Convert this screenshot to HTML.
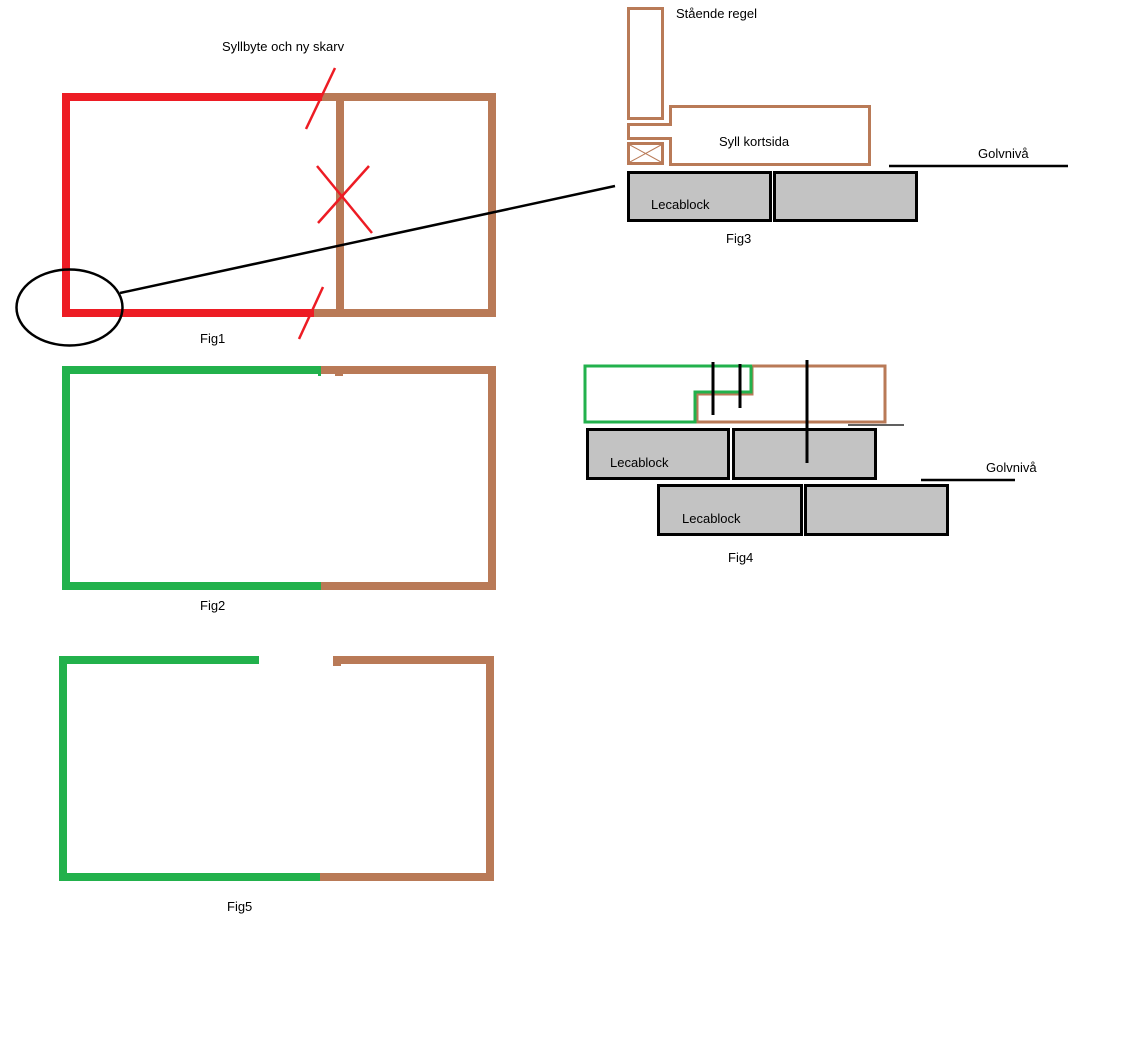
<!DOCTYPE html>
<html><head><meta charset="utf-8"><style>
html,body{margin:0;padding:0;background:#fff;}
svg{display:block;}
text{font-family:"Liberation Sans",sans-serif;font-size:13px;fill:#000;}
</style></head><body>
<svg width="1132" height="1042" viewBox="0 0 1132 1042" xmlns="http://www.w3.org/2000/svg">
<rect width="1132" height="1042" fill="#fff"/>
<!-- Fig1 -->
<rect x="322" y="93" width="174" height="8" fill="#B97A57"/>
<rect x="313" y="309" width="183" height="8" fill="#B97A57"/>
<rect x="488" y="93" width="8" height="224" fill="#B97A57"/>
<rect x="336" y="93" width="8" height="224" fill="#B97A57"/>
<rect x="62" y="93" width="260" height="8" fill="#ED1C24"/>
<rect x="62" y="309" width="252" height="8" fill="#ED1C24"/>
<rect x="62" y="93" width="8" height="224" fill="#ED1C24"/>
<g stroke="#ED1C24" stroke-width="2.5">
<line x1="335" y1="68" x2="306" y2="129"/>
<line x1="323" y1="287" x2="299" y2="339"/>
<line x1="317" y1="166" x2="372" y2="233"/>
<line x1="318" y1="223" x2="369" y2="166"/>
</g>
<line x1="120" y1="293" x2="615" y2="186" stroke="#000" stroke-width="2.5"/>
<ellipse cx="69.5" cy="307.5" rx="53" ry="38" fill="none" stroke="#000" stroke-width="2.5"/>
<text x="222" y="51">Syllbyte och ny skarv</text>
<text x="200" y="343">Fig1</text>
<!-- Fig2 -->
<rect x="321" y="366" width="175" height="8" fill="#B97A57"/>
<rect x="335" y="366" width="8" height="10" fill="#B97A57"/>
<rect x="321" y="582" width="175" height="8" fill="#B97A57"/>
<rect x="488" y="366" width="8" height="224" fill="#B97A57"/>
<rect x="62" y="366" width="259" height="8" fill="#22B14C"/>
<rect x="318" y="366" width="3" height="10" fill="#22B14C"/>
<rect x="62" y="582" width="259" height="8" fill="#22B14C"/>
<rect x="62" y="366" width="8" height="224" fill="#22B14C"/>
<text x="200" y="610">Fig2</text>
<!-- Fig5 -->
<rect x="333" y="656" width="161" height="8" fill="#B97A57"/>
<rect x="333" y="656" width="8" height="10" fill="#B97A57"/>
<rect x="320" y="873" width="174" height="8" fill="#B97A57"/>
<rect x="486" y="656" width="8" height="225" fill="#B97A57"/>
<rect x="59" y="656" width="200" height="8" fill="#22B14C"/>
<rect x="59" y="873" width="261" height="8" fill="#22B14C"/>
<rect x="59" y="656" width="8" height="225" fill="#22B14C"/>
<text x="227" y="911">Fig5</text>
<!-- Fig3 -->
<g fill="none" stroke="#B97A57" stroke-width="3">
<rect x="628.5" y="8.5" width="34" height="110"/>
<polygon points="628.5,124.5 670.5,124.5 670.5,106.5 869.5,106.5 869.5,164.5 670.5,164.5 670.5,138.5 628.5,138.5"/>
<rect x="628.5" y="143.5" width="34" height="20"/>
</g>
<g stroke="#B97A57" stroke-width="1"><line x1="630" y1="145" x2="661" y2="162"/><line x1="661" y1="145" x2="630" y2="162"/></g>
<g fill="#C3C3C3" stroke="#000" stroke-width="3">
<rect x="628.5" y="172.5" width="142" height="48"/>
<rect x="774.5" y="172.5" width="142" height="48"/>
</g>
<line x1="889" y1="166" x2="1068" y2="166" stroke="#000" stroke-width="2.5"/>
<text x="676" y="18">Stående regel</text>
<text x="719" y="146">Syll kortsida</text>
<text x="978" y="158">Golvnivå</text>
<text x="651" y="209">Lecablock</text>
<text x="726" y="243">Fig3</text>
<!-- Fig4 -->
<g fill="#C3C3C3" stroke="#000" stroke-width="3">
<rect x="587.5" y="429.5" width="141" height="49"/>
<rect x="733.5" y="429.5" width="142" height="49"/>
<rect x="658.5" y="485.5" width="143" height="49"/>
<rect x="805.5" y="485.5" width="142" height="49"/>
</g>
<polyline points="751,366 885,366 885,422 697,422 697,394 752,394 752,366" fill="none" stroke="#B97A57" stroke-width="3"/>
<polyline points="752,366 585,366 585,422 695,422 695,392 751,392 751,366" fill="none" stroke="#22B14C" stroke-width="3"/>
<g stroke="#000" stroke-width="3">
<line x1="713" y1="362" x2="713" y2="415"/>
<line x1="740" y1="364" x2="740" y2="408"/>
<line x1="807" y1="360" x2="807" y2="463"/>
</g>
<line x1="848" y1="425" x2="904" y2="425" stroke="#000" stroke-width="1.2"/>
<line x1="921" y1="480" x2="1015" y2="480" stroke="#000" stroke-width="2.5"/>
<text x="610" y="467">Lecablock</text>
<text x="682" y="523">Lecablock</text>
<text x="986" y="472">Golvnivå</text>
<text x="728" y="562">Fig4</text>
</svg>
</body></html>
